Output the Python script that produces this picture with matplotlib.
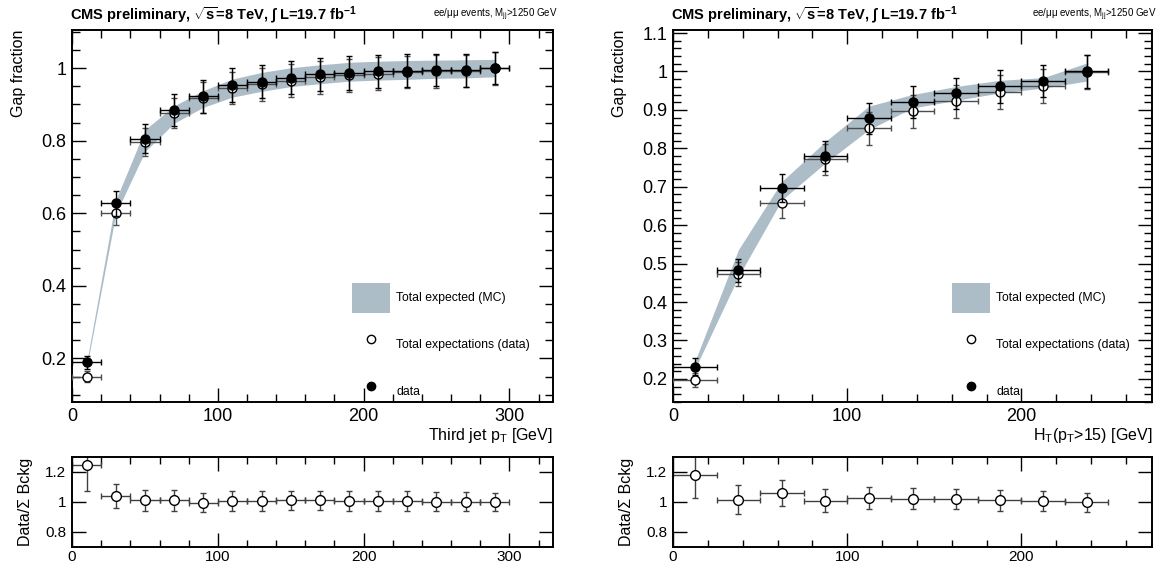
import numpy as np
import matplotlib.pyplot as plt
from matplotlib.ticker import MultipleLocator
from matplotlib.patches import Patch
from matplotlib.lines import Line2D

plt.rcParams["font.family"] = ["Liberation Sans", "DejaVu Sans"]
plt.rcParams["mathtext.fontset"] = "custom"
plt.rcParams["mathtext.rm"] = "Liberation Sans"
plt.rcParams["mathtext.it"] = "Liberation Sans:italic"
plt.rcParams["mathtext.bf"] = "Liberation Sans:bold"

BAND = "#adbdc8"

# ── Third jet pT (left) ───────────────────────────────────────────────────────
pt_x      = np.arange(10, 300, 20)
pt_hw     = 10
pt_data   = [0.190, 0.627, 0.805, 0.885, 0.922, 0.953, 0.963, 0.974, 0.983, 0.987, 0.991, 0.993, 0.995, 0.994, 1.000]
pt_derr   = [0.018, 0.035, 0.040, 0.044, 0.045, 0.046, 0.046, 0.046, 0.046, 0.046, 0.046, 0.046, 0.045, 0.045, 0.044]
pt_exp    = [0.150, 0.600, 0.797, 0.876, 0.918, 0.945, 0.955, 0.965, 0.975, 0.980, 0.985, 0.989, 0.991, 0.992, 0.999]
pt_eerr   = [0.015, 0.032, 0.038, 0.042, 0.043, 0.044, 0.045, 0.045, 0.045, 0.045, 0.045, 0.045, 0.045, 0.045, 0.045]
pt_mc_lo  = [0.174, 0.598, 0.770, 0.848, 0.892, 0.920, 0.936, 0.949, 0.957, 0.964, 0.967, 0.969, 0.972, 0.973, 0.976]
pt_mc_hi  = [0.188, 0.636, 0.830, 0.896, 0.938, 0.970, 0.988, 1.001, 1.009, 1.016, 1.019, 1.021, 1.022, 1.023, 1.024]
pt_ratio  = [1.245, 1.040, 1.010, 1.010, 0.995, 1.005, 1.005, 1.010, 1.010, 1.005, 1.005, 1.005, 1.003, 1.003, 1.000]
pt_rerr   = [0.175, 0.083, 0.068, 0.068, 0.065, 0.066, 0.066, 0.066, 0.066, 0.066, 0.066, 0.065, 0.065, 0.064, 0.062]

# ── HT(pT>15) (right) ─────────────────────────────────────────────────────────
ht_x      = np.arange(12.5, 250, 25)
ht_hw     = 12.5
ht_data   = [0.232, 0.483, 0.697, 0.781, 0.878, 0.920, 0.943, 0.961, 0.975, 1.000]
ht_derr   = [0.022, 0.030, 0.036, 0.039, 0.040, 0.041, 0.041, 0.042, 0.042, 0.043]
ht_exp    = [0.197, 0.473, 0.658, 0.771, 0.852, 0.897, 0.923, 0.947, 0.963, 0.998]
ht_eerr   = [0.018, 0.032, 0.038, 0.040, 0.042, 0.043, 0.043, 0.044, 0.044, 0.044]
ht_mc_lo  = [0.225, 0.466, 0.666, 0.762, 0.849, 0.905, 0.925, 0.944, 0.957, 0.975]
ht_mc_hi  = [0.245, 0.536, 0.714, 0.818, 0.910, 0.940, 0.961, 0.977, 0.984, 1.022]
ht_ratio  = [1.177, 1.016, 1.062, 1.009, 1.028, 1.020, 1.020, 1.011, 1.009, 0.998]
ht_rerr   = [0.150, 0.096, 0.086, 0.075, 0.074, 0.070, 0.067, 0.068, 0.067, 0.064]

TITLE = r"CMS preliminary, $\sqrt{\mathbf{s}}$=8 TeV, ∫ L=19.7 fb$^{\mathbf{-1}}$"
SUB   = r"ee/μμ events, M$_{\mathrm{jj}}$>1250 GeV"


def style(ax, xmin_step, ymaj, ymin, lab=13, maj=10, mnr=5.5, pad=4):
    ax.xaxis.set_major_locator(MultipleLocator(100))
    ax.xaxis.set_minor_locator(MultipleLocator(xmin_step))
    ax.yaxis.set_major_locator(MultipleLocator(ymaj))
    if ymin:
        ax.yaxis.set_minor_locator(MultipleLocator(ymin))
    ax.tick_params(which="both", direction="in", top=True, right=True,
                   labelsize=lab, width=1.0, pad=pad)
    ax.tick_params(which="major", length=maj)
    ax.tick_params(which="minor", length=mnr)
    for s in ax.spines.values():
        s.set_linewidth(1.4)


def top_panel(ax, x, hw, data, derr, exp, eerr, lo, hi, xlim, ylim, ymaj, ymin, xlabel):
    ax.fill_between(x, lo, hi, color=BAND, lw=0, zorder=1)
    ax.errorbar(x, exp, yerr=eerr, xerr=hw, fmt="o", ms=6.5, mfc="white", mec="black",
                mew=1.0, ecolor="0.3", elinewidth=1.0, capsize=2, capthick=1.0, zorder=3)
    ax.errorbar(x, data, yerr=derr, xerr=hw, fmt="o", ms=6.5, mfc="black", mec="black",
                ecolor="black", elinewidth=1.0, capsize=2, capthick=1.0, zorder=4)
    ax.set_xlim(*xlim)
    ax.set_ylim(*ylim)
    style(ax, 20, ymaj, ymin)
    ax.set_ylabel("Gap fraction", fontsize=11.5, loc="top", labelpad=11)
    ax.set_xlabel(xlabel, fontsize=11.5, loc="right", labelpad=1)
    ax.text(-0.005, 1.012, TITLE, transform=ax.transAxes, fontsize=10.5,
            fontweight="bold", ha="left", va="bottom")
    ax.text(1.01, 1.02, SUB, transform=ax.transAxes, fontsize=7,
            ha="right", va="bottom")
    handles = [Patch(facecolor=BAND, edgecolor="none"),
               Line2D([], [], marker="o", ls="none", ms=6, mfc="white", mec="black"),
               Line2D([], [], marker="o", ls="none", ms=6, mfc="black", mec="black")]
    ax.legend(handles, ["Total expected (MC)", "Total expectations (data)", "data"],
              loc="lower left", bbox_to_anchor=(0.583, -0.013), frameon=False,
              fontsize=8.8, handlelength=3.1, handleheight=3.4, labelspacing=1.4,
              handletextpad=0.5, borderpad=0, borderaxespad=0)


def ratio_panel(ax, x, hw, ratio, rerr, xlim):
    ax.errorbar(x, ratio, yerr=rerr, xerr=hw, fmt="o", ms=7, mfc="white", mec="black",
                mew=1.0, ecolor="0.25", elinewidth=1.0, capsize=2, capthick=1.0)
    ax.set_xlim(*xlim)
    ax.set_ylim(0.7, 1.3)
    style(ax, 20, 0.2, None, lab=11, maj=10, mnr=5, pad=2)
    ax.set_yticks([0.8, 1.0, 1.2])
    ax.set_yticklabels(["0.8", "1", "1.2"])
    ax.tick_params(axis="y", pad=4)
    ax.set_ylabel("Data/Σ Bckg", fontsize=11.5, labelpad=9)


fig = plt.figure(figsize=(11.6, 5.66), dpi=100)
ax1 = fig.add_axes([0.0621, 0.2898, 0.4147, 0.6572])
ax2 = fig.add_axes([0.5802, 0.2898, 0.4129, 0.6572])
ax3 = fig.add_axes([0.0621, 0.0336, 0.4147, 0.1590])
ax4 = fig.add_axes([0.5802, 0.0336, 0.4129, 0.1590])

top_panel(ax1, pt_x, pt_hw, pt_data, pt_derr, pt_exp, pt_eerr, pt_mc_lo, pt_mc_hi,
          (0, 330), (0.08, 1.105), 0.2, 0.05, r"Third jet p$_{\mathrm{T}}$ [GeV]")
ax1.set_yticks([0.2, 0.4, 0.6, 0.8, 1.0])
ax1.set_yticklabels(["0.2", "0.4", "0.6", "0.8", "1"])

top_panel(ax2, ht_x, ht_hw, ht_data, ht_derr, ht_exp, ht_eerr, ht_mc_lo, ht_mc_hi,
          (0, 275), (0.14, 1.108), 0.1, 0.02,
          r"H$_{\mathrm{T}}$(p$_{\mathrm{T}}$>15) [GeV]")
ax2.set_yticks(np.round(np.arange(0.2, 1.15, 0.1), 1))
ax2.set_yticklabels(["0.2", "0.3", "0.4", "0.5", "0.6", "0.7", "0.8", "0.9", "1", "1.1"])

ratio_panel(ax3, pt_x, pt_hw, pt_ratio, pt_rerr, (0, 330))
ratio_panel(ax4, ht_x, ht_hw, ht_ratio, ht_rerr, (0, 275))

fig.savefig("out.png", dpi=100)
